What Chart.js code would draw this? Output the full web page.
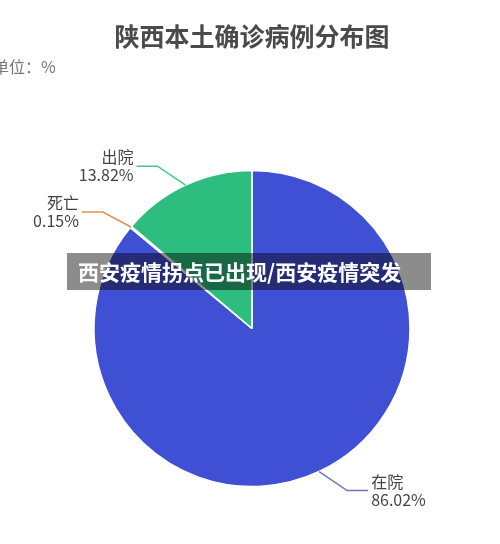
<!DOCTYPE html>
<html>
<head>
<meta charset="utf-8">
<script src="https://cdn.jsdelivr.net/npm/chart.js@4/dist/chart.umd.min.js"></script>
<style>
  html, body { margin: 0; padding: 0; background: #fff; }
  #wrap { position: relative; width: 500px; height: 544px; overflow: hidden; }
  #banner {
    position: absolute; left: 67px; top: 253px; width: 364px; height: 37px;
    background: rgba(0, 0, 0, 0.45); color: #fff;
    font: bold 21px "Noto Sans CJK SC", sans-serif;
    line-height: 37px; padding-left: 11px; box-sizing: border-box; white-space: nowrap;
  }
</style>
</head>
<body>
<div id="wrap">
  <canvas id="pie" width="500" height="544"></canvas>
  <div id="banner">西安疫情拐点已出现/西安疫情突发</div>
</div>
<script>
  var titleText = '陕西本土确诊病例分布图';
  var unitText = '单位：%';
  var categories = ['在院', '死亡', '出院'];
  var shares = [86.02, 0.15, 13.82];
  var sliceColors = ['#4050d4', '#e0893c', '#2dbd7f'];
  var lineColors = ['#7672b4', '#d99455', '#45c48e'];

  var font = '"Noto Sans CJK SC", "Noto Sans", sans-serif';

  // title, unit note and the echarts-like outside labels
  var decorPlugin = {
    id: 'decor',
    afterDraw: function(chart) {
      var ctx = chart.ctx;
      ctx.save();
      ctx.fillStyle = '#4a4a4a';
      ctx.font = 'bold 25px ' + font;
      ctx.textAlign = 'center';
      ctx.textBaseline = 'middle';
      ctx.fillText(titleText, 252, 36);

      ctx.fillStyle = '#777';
      ctx.font = '16px ' + font;
      ctx.textAlign = 'left';
      ctx.fillText(unitText, -7, 67);

      var arcs = chart.getDatasetMeta(0).data;
      arcs.forEach(function(arc, i) {
        var p = arc.getProps(['x', 'y', 'startAngle', 'endAngle', 'outerRadius'], true);
        var mid = (p.startAngle + p.endAngle) / 2;
        var ex = p.x + p.outerRadius * Math.cos(mid);
        var ey = p.y + p.outerRadius * Math.sin(mid);
        var sx = Math.cos(mid) < 0 ? -1 : 1;
        var sy = Math.sin(mid) < 0 ? -1 : 1;
        var bx = ex + sx * 28;
        var by = ey + sy * (i === 1 ? 15 : 19);
        var tx = bx + sx * 21;

        ctx.strokeStyle = lineColors[i];
        ctx.lineWidth = 1.5;
        ctx.beginPath();
        ctx.moveTo(ex, ey);
        ctx.lineTo(bx, by);
        ctx.lineTo(tx, by);
        ctx.stroke();

        ctx.fillStyle = '#444';
        ctx.font = '16px ' + font;
        ctx.textAlign = sx < 0 ? 'right' : 'left';
        ctx.fillText(categories[i], tx + sx * 3, by - 9);
        ctx.fillText(shares[i].toFixed(2) + '%', tx + sx * 3, by + 9);
      });
      ctx.restore();
    }
  };

  new Chart(document.getElementById('pie'), {
    type: 'pie',
    data: {
      labels: categories,
      datasets: [{
        data: shares,
        backgroundColor: sliceColors,
        borderColor: '#ffffff',
        borderWidth: 1.5
      }]
    },
    options: {
      responsive: false,
      animation: false,
      radius: 158,
      layout: { padding: { left: 94, right: 90, top: 170, bottom: 57 } },
      plugins: {
        legend: { display: false },
        tooltip: { enabled: false },
        title: { display: false }
      }
    },
    plugins: [decorPlugin]
  });
</script>
</body>
</html>
